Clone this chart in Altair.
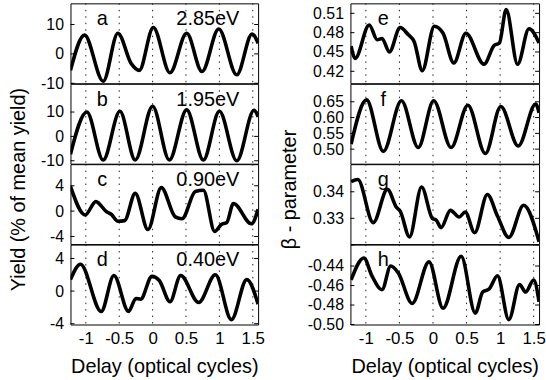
import altair as alt
import pandas as pd

FONT = "Liberation Sans"

# x positions of the tick labels / dotted grid
x_ticks = [-1, -0.5, 0, 0.5, 1, 1.5]
x_domain = [-1.23, 1.58]

# ---- left column: yield (% of mean yield) ----
x_a = [-1.23, -1.02, -0.74, -0.52, -0.32, -0.20, 0.01, 0.26, 0.51, 0.74, 0.99, 1.26, 1.49, 1.58]
y_a = [-5.6, 6.4, -9.3, 7.0, -3.3, -5.6, 9.0, -6.4, 7.0, -6.0, 8.5, -7.1, 6.8, 3.6]

x_b = [-1.23, -0.985, -0.74, -0.49, -0.26, 0.0, 0.25, 0.51, 0.76, 1.0, 1.26, 1.52, 1.58]
y_b = [-7.3, 10.0, -9.7, 10.3, -9.7, 12.4, -9.7, 10.9, -9.7, 10.3, -10.0, 10.7, 8.0]

x_c = [-1.23, -1.01, -0.85, -0.69, -0.62, -0.52, -0.42, -0.26, -0.07, 0.13, 0.34, 0.44,
       0.64, 0.76, 0.93, 1.03, 1.11, 1.21, 1.48, 1.58]
y_c = [3.9, -0.6, 1.5, -0.1, -0.5, -1.6, -1.5, 2.8, -2.9, 3.7, -0.9, -1.2,
       3.1, 3.3, -3.2, -2.1, -1.8, 1.2, -2.0, 0.3]

x_d = [-1.23, -1.08, -0.77, -0.58, -0.36, -0.25, -0.18, -0.01, 0.10, 0.26, 0.42, 0.69,
       0.94, 1.18, 1.41, 1.58]
y_d = [1.4, 3.3, -2.5, 1.9, -2.5, -0.9, -1.0, 1.8, 1.3, -1.3, 1.9, -1.4,
       2.0, -3.5, 1.4, -1.6]

# ---- right column: beta parameter ----
x_e = [-1.22, -1.16, -0.95, -0.83, -0.76, -0.65, -0.49, -0.37, -0.28, -0.16, 0.02, 0.15,
       0.31, 0.49, 0.76, 0.91, 0.99, 1.09, 1.26, 1.43, 1.58]
y_e = [0.459, 0.440, 0.492, 0.469, 0.471, 0.450, 0.488, 0.477, 0.466, 0.421, 0.490, 0.479,
       0.433, 0.479, 0.431, 0.460, 0.464, 0.516, 0.431, 0.486, 0.464]

x_f = [-1.22, -0.99, -0.74, -0.47, -0.22, 0.01, 0.27, 0.52, 0.78, 1.01, 1.27, 1.53, 1.58]
y_f = [0.516, 0.656, 0.493, 0.653, 0.505, 0.653, 0.505, 0.639, 0.486, 0.635, 0.510, 0.643, 0.615]

x_g = [-1.22, -1.12, -0.89, -0.68, -0.54, -0.49, -0.35, -0.17, -0.01, 0.05, 0.12, 0.26,
       0.39, 0.48, 0.62, 0.81, 0.96, 1.13, 1.35, 1.58]
y_g = [0.3438, 0.3446, 0.3284, 0.3409, 0.3340, 0.3328, 0.3230, 0.3418, 0.3300, 0.3293,
       0.3265, 0.3330, 0.3305, 0.3324, 0.3246, 0.3390, 0.3309, 0.3228, 0.3349, 0.3212]

x_h = [-1.22, -1.03, -0.91, -0.76, -0.63, -0.52, -0.31, -0.06, 0.15, 0.42, 0.63, 0.74,
       0.84, 0.96, 1.13, 1.29, 1.38, 1.50, 1.58]
y_h = [-0.4543, -0.4317, -0.4500, -0.4643, -0.4400, -0.4467, -0.4783, -0.4357, -0.4833,
       -0.4300, -0.4883, -0.4667, -0.4633, -0.4500, -0.4950, -0.4590, -0.4667, -0.4543, -0.4767]

letters_left = ["a", "b", "c", "d"]
energies = ["2.85eV", "1.95eV", "0.90eV", "0.40eV"]
letters_right = ["e", "f", "g", "h"]

domains_left = [[-10, 17.2], [-11.2, 21.6], [-5.2, 7.4], [-4.1, 5.7]]
ticks_left = [[-10, 0, 10], [-10, 0, 10], [-4, 0, 4], [-4, 0, 4]]
domains_right = [[0.4014, 0.5255], [0.454, 0.707], [0.3203, 0.3504], [-0.50, -0.418]]
ticks_right = [[0.42, 0.45, 0.48, 0.51], [0.50, 0.55, 0.60, 0.65], [0.32, 0.33, 0.34],
               [-0.50, -0.48, -0.46, -0.44]]

W_L, W_R, H = 189, 190, 80.5

x_scale = alt.Scale(domain=x_domain, nice=False, zero=False)


def panel(xs, ys, dom, yt, yfmt, letter, energy, bottom, width, letter_x):
    df = pd.DataFrame({"x": xs, "y": ys})
    y_scale = alt.Scale(domain=dom, nice=False, zero=False)
    if bottom:
        xaxis = alt.Axis(
            values=x_ticks, grid=False, ticks=False, domain=False,
            title="Delay (optical cycles)",
            labelExpr="(datum.value < 0 ? '-' : '') + format(abs(datum.value), '~g')",
            labelFont=FONT, labelFontSize=17, labelPadding=6, labelColor="black",
            labelFlush=False,
            titleFont=FONT, titleFontSize=20, titleFontWeight="normal", titlePadding=10,
            titleColor="black",
        )
    else:
        xaxis = None
    yaxis = alt.Axis(
        values=yt, grid=False, ticks=False, domain=False, title=None,
        labelExpr="(datum.value < 0 ? '-' : '') + format(abs(datum.value), '" + yfmt + "')",
        labelFont=FONT, labelFontSize=16, labelPadding=7, labelColor="black",
        labelOverlap=False, labelFlush=False,
    )
    grid = alt.Chart(pd.DataFrame({"x": x_ticks})).mark_rule(
        color="#222", strokeDash=[1.5, 5], strokeWidth=1
    ).encode(x=alt.X("x:Q", scale=x_scale, axis=xaxis))
    tick_df = pd.DataFrame({"y": yt})
    ticks_l = alt.Chart(tick_df).mark_rule(color="black", strokeWidth=1).encode(
        y=alt.Y("y:Q", scale=y_scale, axis=yaxis), x=alt.value(0), x2=alt.value(4))
    ticks_r = alt.Chart(tick_df).mark_rule(color="black", strokeWidth=1).encode(
        y=alt.Y("y:Q", scale=y_scale, axis=yaxis), x=alt.value(width - 4), x2=alt.value(width))
    line = alt.Chart(df).mark_line(
        color="black", strokeWidth=3.6, interpolate="monotone", clip=True
    ).encode(
        x=alt.X("x:Q", scale=x_scale, axis=xaxis),
        y=alt.Y("y:Q", scale=y_scale, axis=yaxis),
    )
    layers = [grid, ticks_l, ticks_r, line]
    layers.append(
        alt.Chart(pd.DataFrame({"t": [letter]})).mark_text(
            font=FONT, fontSize=20, color="black", align="center", baseline="alphabetic"
        ).encode(x=alt.value(letter_x), y=alt.value(22), text="t:N")
    )
    if energy:
        layers.append(
            alt.Chart(pd.DataFrame({"t": [energy]})).mark_text(
                font=FONT, fontSize=20, color="black", align="right", baseline="alphabetic"
            ).encode(x=alt.value(170), y=alt.value(22), text="t:N")
        )
    return alt.layer(*layers).properties(width=width, height=H)


left_data = [(x_a, y_a), (x_b, y_b), (x_c, y_c), (x_d, y_d)]
right_data = [(x_e, y_e), (x_f, y_f), (x_g, y_g), (x_h, y_h)]

left_panels = [
    panel(xs, ys, domains_left[i], ticks_left[i], "~g", letters_left[i], energies[i],
          i == 3, W_L, 32)
    for i, (xs, ys) in enumerate(left_data)
]
right_panels = [
    panel(xs, ys, domains_right[i], ticks_right[i], ".2f", letters_right[i], None,
          i == 3, W_R, 33)
    for i, (xs, ys) in enumerate(right_data)
]

left = alt.vconcat(*left_panels, spacing=0, bounds="flush").properties(
    title=alt.TitleParams("Yield (% of mean yield)", orient="left", anchor="middle",
                          font=FONT, fontSize=20, fontWeight="normal", color="black",
                          offset=11)
)
right = alt.vconcat(*right_panels, spacing=0, bounds="flush").properties(
    title=alt.TitleParams("β - parameter", orient="left", anchor="middle",
                          font=FONT, fontSize=20, fontWeight="normal", color="black",
                          offset=7)
)

chart = alt.hconcat(left, right, spacing=15).properties(
    padding={"left": 9, "top": 1, "right": 0, "bottom": 0},
    background="white",
).configure_view(stroke="black", strokeWidth=1)

chart.save("out.html", embed_options={"renderer": "svg", "actions": False})
